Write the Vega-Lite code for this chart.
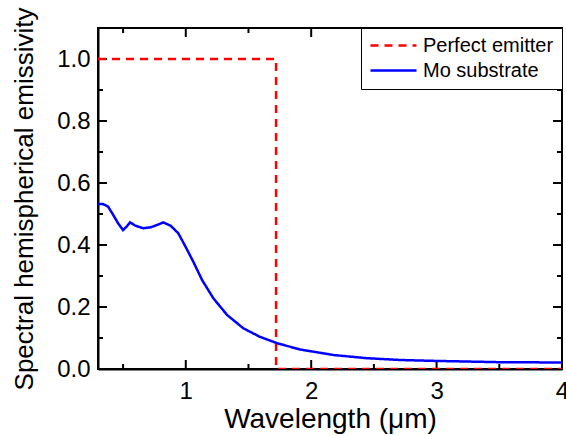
{
  "$schema": "https://vega.github.io/schema/vega-lite/v6.json",
  "width": 464,
  "height": 341,
  "autosize": "none",
  "padding": {"left": 98, "top": 28, "right": 4, "bottom": 67},
  "config": {
    "font": "Liberation Sans",
    "view": {"stroke": "black", "strokeWidth": 2},
    "axis": {
      "domainColor": "black", "domainWidth": 2,
      "ticks": false, "grid": false,
      "labelColor": "black", "titleColor": "black",
      "labelFont": "Liberation Sans", "titleFont": "Liberation Sans",
      "labelFontSize": 24, "titleFontWeight": "normal"
    },
    "legend": {
      "labelFont": "Liberation Sans", "labelFontSize": 20, "labelColor": "black"
    }
  },
  "datasets": {
    "curves": [
      {"i": 0, "series": "Perfect emitter", "wl": 0.3, "e": 1.0},
      {"i": 1, "series": "Perfect emitter", "wl": 1.72, "e": 1.0},
      {"i": 2, "series": "Perfect emitter", "wl": 1.72, "e": 0.0},
      {"i": 3, "series": "Perfect emitter", "wl": 4.0, "e": 0.0},
      {"i": 10, "series": "Mo substrate", "wl": 0.3, "e": 0.532},
      {"i": 11, "series": "Mo substrate", "wl": 0.34, "e": 0.532},
      {"i": 12, "series": "Mo substrate", "wl": 0.38, "e": 0.524},
      {"i": 13, "series": "Mo substrate", "wl": 0.42, "e": 0.498},
      {"i": 14, "series": "Mo substrate", "wl": 0.46, "e": 0.47},
      {"i": 15, "series": "Mo substrate", "wl": 0.5, "e": 0.448},
      {"i": 16, "series": "Mo substrate", "wl": 0.53, "e": 0.46},
      {"i": 17, "series": "Mo substrate", "wl": 0.555, "e": 0.473},
      {"i": 18, "series": "Mo substrate", "wl": 0.6, "e": 0.462},
      {"i": 19, "series": "Mo substrate", "wl": 0.66, "e": 0.454},
      {"i": 20, "series": "Mo substrate", "wl": 0.72, "e": 0.457},
      {"i": 21, "series": "Mo substrate", "wl": 0.78, "e": 0.466},
      {"i": 22, "series": "Mo substrate", "wl": 0.82, "e": 0.473},
      {"i": 23, "series": "Mo substrate", "wl": 0.88, "e": 0.462},
      {"i": 24, "series": "Mo substrate", "wl": 0.94, "e": 0.438},
      {"i": 25, "series": "Mo substrate", "wl": 1.0, "e": 0.393},
      {"i": 26, "series": "Mo substrate", "wl": 1.06, "e": 0.346},
      {"i": 27, "series": "Mo substrate", "wl": 1.13, "e": 0.287},
      {"i": 28, "series": "Mo substrate", "wl": 1.22, "e": 0.228},
      {"i": 29, "series": "Mo substrate", "wl": 1.33, "e": 0.174},
      {"i": 30, "series": "Mo substrate", "wl": 1.46, "e": 0.131},
      {"i": 31, "series": "Mo substrate", "wl": 1.59, "e": 0.104},
      {"i": 32, "series": "Mo substrate", "wl": 1.73, "e": 0.083},
      {"i": 33, "series": "Mo substrate", "wl": 1.91, "e": 0.063},
      {"i": 34, "series": "Mo substrate", "wl": 2.18, "e": 0.045},
      {"i": 35, "series": "Mo substrate", "wl": 2.44, "e": 0.035},
      {"i": 36, "series": "Mo substrate", "wl": 2.71, "e": 0.029},
      {"i": 37, "series": "Mo substrate", "wl": 3.0, "e": 0.026},
      {"i": 38, "series": "Mo substrate", "wl": 3.5, "e": 0.022},
      {"i": 39, "series": "Mo substrate", "wl": 4.0, "e": 0.021}
    ],
    "xticks": [
      {"t": 0.5, "kind": "minor"}, {"t": 1, "kind": "major"},
      {"t": 1.5, "kind": "minor"}, {"t": 2, "kind": "major"},
      {"t": 2.5, "kind": "minor"}, {"t": 3, "kind": "major"},
      {"t": 3.5, "kind": "minor"}
    ],
    "yticks": [
      {"t": 0.1, "kind": "minor"}, {"t": 0.2, "kind": "major"},
      {"t": 0.3, "kind": "minor"}, {"t": 0.4, "kind": "major"},
      {"t": 0.5, "kind": "minor"}, {"t": 0.6, "kind": "major"},
      {"t": 0.7, "kind": "minor"}, {"t": 0.8, "kind": "major"},
      {"t": 0.9, "kind": "minor"}, {"t": 1.0, "kind": "major"}
    ]
  },
  "layer": [
    {
      "data": {"name": "xticks"},
      "mark": {"type": "tick", "orient": "vertical", "clip": true, "color": "black", "thickness": 2, "opacity": 1},
      "encoding": {
        "x": {"field": "t", "type": "quantitative"},
        "y": {"datum": 0, "type": "quantitative"},
        "size": {"field": "kind", "type": "nominal", "scale": {"domain": ["major", "minor"], "range": [18, 10]}, "legend": null}
      }
    },
    {
      "data": {"name": "xticks"},
      "mark": {"type": "tick", "orient": "vertical", "clip": true, "color": "black", "thickness": 2, "opacity": 1},
      "encoding": {
        "x": {"field": "t", "type": "quantitative"},
        "y": {"datum": 1.1, "type": "quantitative"},
        "size": {"field": "kind", "type": "nominal", "legend": null}
      }
    },
    {
      "data": {"name": "yticks"},
      "mark": {"type": "tick", "orient": "horizontal", "clip": true, "color": "black", "thickness": 2, "opacity": 1},
      "encoding": {
        "y": {"field": "t", "type": "quantitative"},
        "x": {"datum": 0.3, "type": "quantitative"},
        "size": {"field": "kind", "type": "nominal", "legend": null}
      }
    },
    {
      "data": {"name": "yticks"},
      "mark": {"type": "tick", "orient": "horizontal", "clip": true, "color": "black", "thickness": 2, "opacity": 1},
      "encoding": {
        "y": {"field": "t", "type": "quantitative"},
        "x": {"datum": 4, "type": "quantitative"},
        "size": {"field": "kind", "type": "nominal", "legend": null}
      }
    },
    {
      "data": {"name": "curves"},
      "mark": {"type": "line", "strokeWidth": 2.5, "clip": true},
      "encoding": {
        "x": {
          "field": "wl", "type": "quantitative",
          "scale": {"domain": [0.3, 4], "nice": false, "zero": false},
          "axis": {
            "orient": "bottom",
            "title": "Wavelength (μm)", "titleFontSize": 28, "titlePadding": 2,
            "values": [1, 2, 3, 4], "format": "d",
            "labelPadding": 10, "labelFlush": false, "labelOverlap": false
          }
        },
        "y": {
          "field": "e", "type": "quantitative",
          "scale": {"domain": [0, 1.1], "nice": false},
          "axis": {
            "orient": "left",
            "title": "Spectral hemispherical emissivity", "titleFontSize": 26, "titlePadding": 19,
            "values": [0, 0.2, 0.4, 0.6, 0.8, 1.0], "format": ".1f",
            "labelPadding": 8, "labelOverlap": false
          }
        },
        "color": {
          "field": "series", "type": "nominal",
          "scale": {"domain": ["Perfect emitter", "Mo substrate"], "range": ["#ff0000", "#0000ff"]},
          "legend": {
            "title": null, "orient": "top-right", "offset": 0,
            "strokeColor": "black", "fillColor": "white", "padding": 8,
            "symbolType": "stroke", "symbolSize": 2116, "symbolStrokeWidth": 2.5,
            "labelOffset": 5, "rowPadding": 4, "clipHeight": 19
          }
        },
        "strokeDash": {
          "field": "series", "type": "nominal",
          "scale": {"domain": ["Perfect emitter", "Mo substrate"], "range": [[8, 6], [1, 0]]},
          "legend": {
            "title": null, "orient": "top-right", "offset": 0,
            "strokeColor": "black", "fillColor": "white", "padding": 8,
            "symbolType": "stroke", "symbolSize": 2116, "symbolStrokeWidth": 2.5,
            "labelOffset": 5, "rowPadding": 4, "clipHeight": 19
          }
        },
        "order": {"field": "i", "type": "quantitative"}
      }
    }
  ]
}
